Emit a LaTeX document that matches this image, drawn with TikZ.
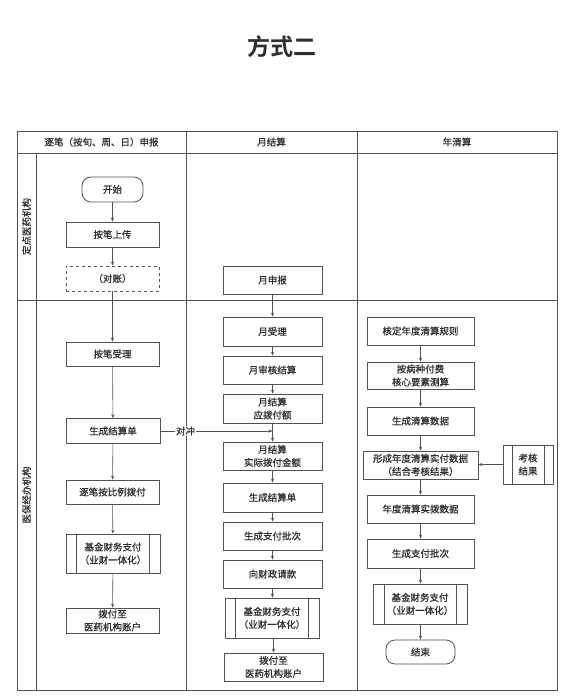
\documentclass[tikz,border=0pt]{standalone}
\usepackage{fontspec}
\setmainfont{Noto Sans CJK SC}[FakeBold=0.7]
\newfontfamily\titlefont{Noto Sans CJK SC}[BoldFont={* Bold}]
\usetikzlibrary{arrows.meta,positioning,calc}
\definecolor{ln}{gray}{0.32}
\definecolor{tx}{gray}{0.18}
\begin{document}
\begin{tikzpicture}[x=1pt,y=-1pt,
  every node/.style={text=tx,font=\fontsize{9.5}{13}\selectfont},
  procbox/.style={draw=ln,line width=0.8pt,align=center,inner sep=0pt},
  termbox/.style={procbox,rounded corners=9pt},
  dashbox/.style={procbox,dashed},
  arr/.style={draw=ln,line width=0.6pt,-{Stealth[length=4pt,width=3.2pt]}},
  frame/.style={draw=ln,line width=0.9pt},
  sidebar/.style={draw=ln,line width=0.8pt},
]
\useasboundingbox (0,0) rectangle (564,696);
\fill[white] (0,0) rectangle (564,696);
% title
\node (title) at (282,47) {\titlefont\fontsize{23}{26}\selectfont\bfseries 方式二};
% frame
\draw[frame] (17,131) rectangle (557,690);
\draw[frame] (17,153) -- (557,153);
\draw[frame] (186,131) -- (186,690);
\draw[frame] (357,131) -- (357,690);
\draw[frame] (36,153) -- (36,690);
\draw[frame] (17,300) -- (557,300);
% headers
\node (h1) at (101.5,142) {逐笔（按旬、周、日）申报};
\node (h2) at (271.5,142) {月结算};
\node (h3) at (457,142) {年清算};
\node[rotate=90] (l1) at (26.5,226.5) {定点医药机构};
\node[rotate=90] (l2) at (26.5,495) {医保经办机构};
% left column
\node[termbox,minimum width=61pt,minimum height=25pt] (start) at (112.5,189.5) {开始};
\node[procbox,minimum width=93pt,minimum height=25pt] (upload) at (112.5,234.5) {按笔上传};
\node[dashbox,minimum width=93pt,minimum height=25pt] (recon) at (112.5,278.5) {（对账）};
\node[procbox,minimum width=93pt,minimum height=24pt] (accept) at (112.5,354) {按笔受理};
\node[procbox,minimum width=94pt,minimum height=25pt] (genA) at (113,431) {生成结算单};
\node[procbox,minimum width=93pt,minimum height=24pt] (payA) at (112.5,492) {逐笔按比例拨付};
\node[procbox,minimum width=94pt,minimum height=39pt] (fundA) at (113,553.5) {基金财务支付\\（业财一体化）};
\draw[sidebar] ([xshift=11pt]fundA.north west) -- ([xshift=11pt]fundA.south west)
  ([xshift=-11pt]fundA.north east) -- ([xshift=-11pt]fundA.south east);
\node[procbox,minimum width=93pt,minimum height=25pt] (acctA) at (112.5,620.5) {拨付至\\医药机构账户};
% middle column
\node[procbox,minimum width=99pt,minimum height=28pt] (msb) at (272.5,280) {月申报};
\node[procbox,minimum width=99pt,minimum height=29pt] (msl) at (272.5,331.5) {月受理};
\node[procbox,minimum width=99pt,minimum height=28pt] (msh) at (272.5,370) {月审核结算};
\node[procbox,minimum width=99pt,minimum height=29pt] (myb) at (272.5,408.5) {月结算\\应拨付额};
\node[procbox,minimum width=99pt,minimum height=28pt] (msj) at (272.5,456) {月结算\\实际拨付金额};
\node[procbox,minimum width=99pt,minimum height=29pt] (genB) at (272.5,497.5) {生成结算单};
\node[procbox,minimum width=99pt,minimum height=28pt] (batB) at (272.5,536) {生成支付批次};
\node[procbox,minimum width=99pt,minimum height=28pt] (reqB) at (272.5,574) {向财政请款};
\node[procbox,minimum width=94pt,minimum height=40pt] (fundB) at (272,618) {基金财务支付\\（业财一体化）};
\draw[sidebar] ([xshift=11pt]fundB.north west) -- ([xshift=11pt]fundB.south west)
  ([xshift=-11pt]fundB.north east) -- ([xshift=-11pt]fundB.south east);
\node[procbox,minimum width=99pt,minimum height=28pt] (acctB) at (273.5,667) {拨付至\\医药机构账户};
% right column
\node[procbox,minimum width=107pt,minimum height=28pt] (r1) at (420.5,331) {核定年度清算规则};
\node[procbox,minimum width=107pt,minimum height=27pt] (r2) at (420.5,375.5) {按病种付费\\核心要素测算};
\node[procbox,minimum width=107pt,minimum height=28pt] (r3) at (420.5,421) {生成清算数据};
\node[procbox,minimum width=115pt,minimum height=28pt] (r4) at (420.5,465) {形成年度清算实付数据\\（结合考核结果）};
\node[procbox,minimum width=50pt,minimum height=39pt] (kh) at (528,464.5) {考核\\结果};
\draw[sidebar] ([xshift=9.5pt]kh.north west) -- ([xshift=9.5pt]kh.south west)
  ([xshift=-9.5pt]kh.north east) -- ([xshift=-9.5pt]kh.south east);
\node[procbox,minimum width=107pt,minimum height=28pt] (r5) at (420.5,509) {年度清算实拨数据};
\node[procbox,minimum width=107pt,minimum height=29pt] (r6) at (420.5,553.5) {生成支付批次};
\node[procbox,minimum width=94pt,minimum height=40pt] (fundC) at (420,604) {基金财务支付\\（业财一体化）};
\draw[sidebar] ([xshift=11.5pt]fundC.north west) -- ([xshift=11.5pt]fundC.south west)
  ([xshift=-11.5pt]fundC.north east) -- ([xshift=-11.5pt]fundC.south east);
\node[termbox,minimum width=69pt,minimum height=24pt] (endn) at (420.5,652) {结束};
% connectors left
\draw[arr] (start) -- (upload);
\draw[arr] (upload) -- (recon);
\draw[arr] (recon) -- (accept);
\draw[arr] (accept) -- (genA);
\draw[arr] (genA) -- (payA);
\draw[arr] (payA) -- (fundA);
\draw[arr] (fundA) -- (acctA);
% connectors middle
\draw[arr] (msb) -- (msl);
\draw[arr] (msl) -- (msh);
\draw[arr] (msh) -- (myb);
\draw[arr] (myb) -- (msj);
\draw[arr] (msj) -- (genB);
\draw[arr] (genB) -- (batB);
\draw[arr] (batB) -- (reqB);
\draw[arr] (reqB.south) -- (reqB.south |- fundB.north);
\draw[arr] (fundB.south -| acctB) -- (acctB.north);
% offset
\coordinate (dc) at (myb.south |- genA.east);
\node[fill=white,inner sep=1pt] (dclabel) at (185.5,431) {对冲};
\draw[draw=ln,line width=0.6pt] (genA.east) -- (dclabel.west);
\draw[arr] (dclabel.east) -- (dc);
% connectors right
\draw[arr] (r1) -- (r2);
\draw[arr] (r2) -- (r3);
\draw[arr] (r3) -- (r4);
\draw[arr] (r4) -- (r5);
\draw[arr] (r5) -- (r6);
\draw[arr] (r6.south) -- (r6.south |- fundC.north);
\draw[arr] (fundC.south -| endn) -- (endn.north);
\draw[arr] (kh.west) -- (r4.east |- kh.west);
\end{tikzpicture}
\end{document}
